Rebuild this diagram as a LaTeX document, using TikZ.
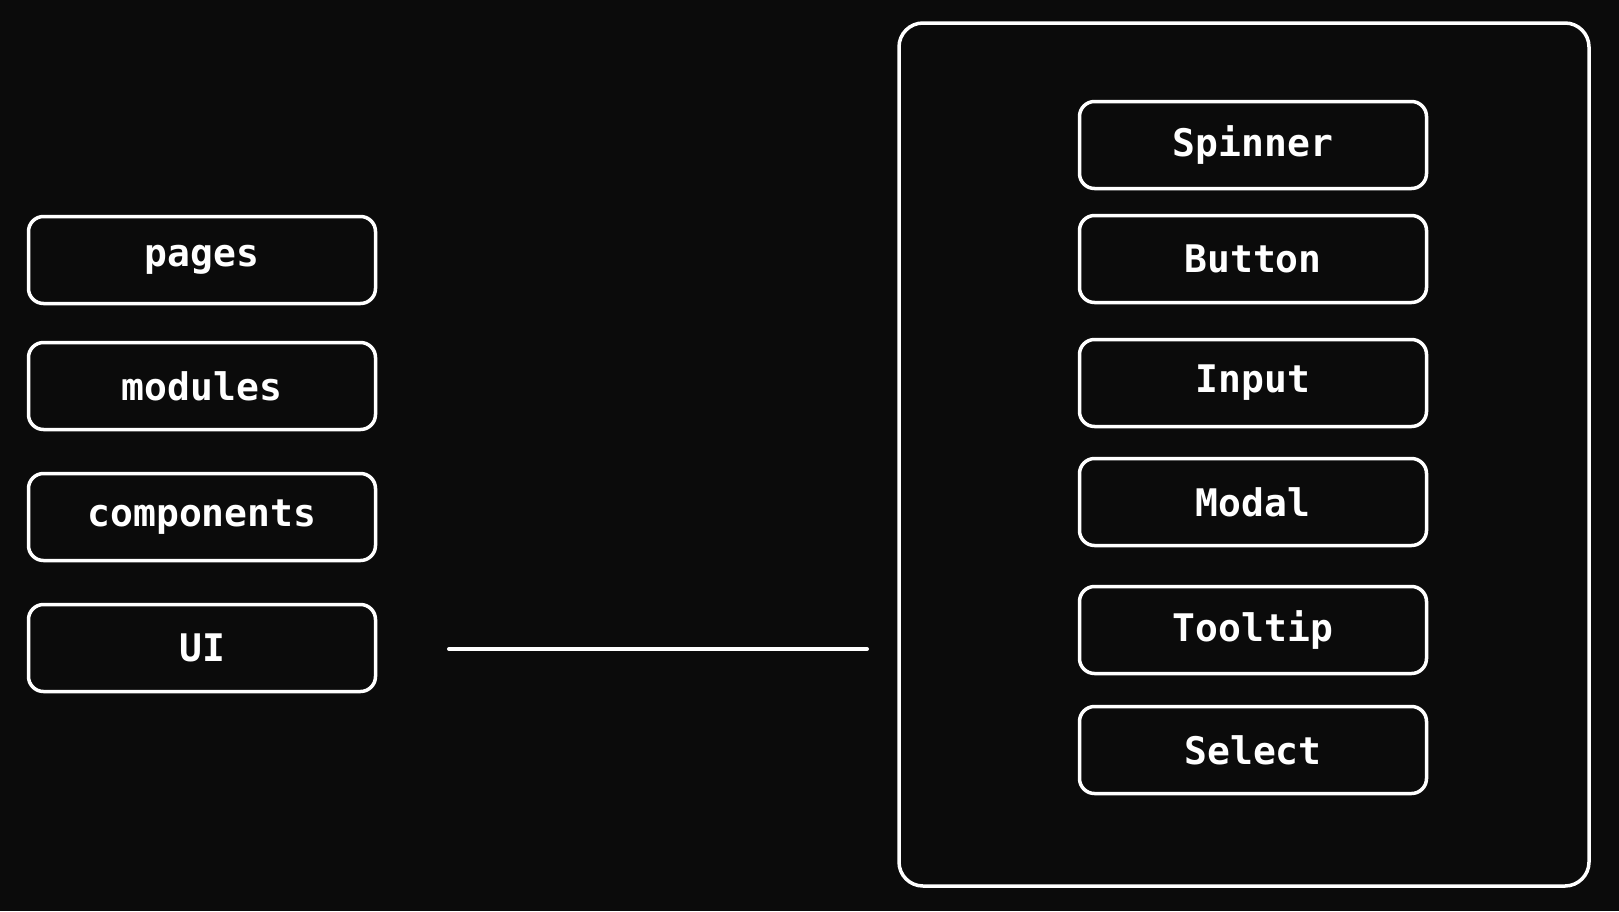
\documentclass[tikz,border=0pt]{standalone}
\usepackage{fontspec}
\newfontfamily\pixfont{DejaVu Sans Mono}
\begin{document}
\begin{tikzpicture}[x=1pt,y=-1pt,
  box/.style={draw=white, line width=3.5pt, rounded corners=15pt, text=white,
    minimum width=347pt, minimum height=87pt, inner sep=0pt,
    font=\pixfont\bfseries\fontsize{38}{40}\selectfont},
  frame/.style={draw=white, line width=3.5pt, rounded corners=24pt},
  link/.style={draw=white, line width=4pt, line cap=round}]
\definecolor{bg}{HTML}{0B0B0B}
\fill[bg] (0,0) rectangle (1619,911);
\useasboundingbox (0,0) rectangle (1619,911);
% left column
\node[box] (pages) at (202,260) {pages};
\node[box] (modules) at (202,386) {modules};
\node[box] (components) at (202,517) {components};
\node[box] (ui) at (202,648) {UI};
% container
\draw[frame] (899,23) rectangle (1589,886);
\coordinate (lineA) at (449,649);
\coordinate (lineB) at (867,649);
\draw[link] (lineA) -- (lineB);
% right column
\node[box] (spinner) at (1253,145) {Spinner};
\node[box] (button) at (1253,259) {Button};
\node[box] (input) at (1253,383) {Input};
\node[box] (modal) at (1253,502) {Modal};
\node[box] (tooltip) at (1253,630) {Tooltip};
\node[box] (select) at (1253,750) {Select};
\end{tikzpicture}
\end{document}
